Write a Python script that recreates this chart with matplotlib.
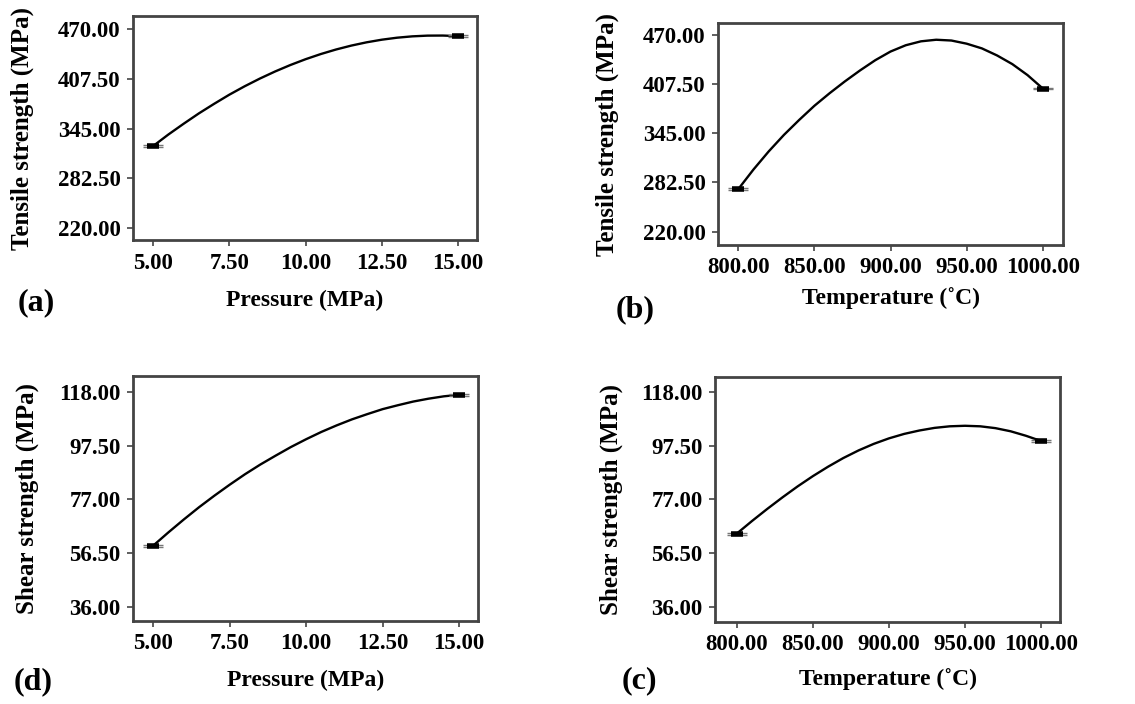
# -*- coding: utf-8 -*-

import matplotlib.pyplot as plt

# (a) tensile strength vs pressure
pres_x = [5, 5.5, 6, 6.5, 7, 7.5, 8, 8.5, 9, 9.5, 10,
          10.5, 11, 11.5, 12, 12.5, 13, 13.5, 14, 14.5, 15]
ts_pres = [323, 337.5, 351, 364, 376, 387.5, 398, 407.7, 416.6, 424.7, 432,
           438.5, 444.2, 449.1, 453.2, 456.5, 459, 460.7, 461.6, 461.7, 461]
# (b) tensile strength vs temperature
temp_x = [800, 810, 820, 830, 840, 850, 860, 870, 880, 890, 900,
          910, 920, 930, 940, 950, 960, 970, 980, 990, 1000]
ts_temp = [274, 299, 322, 343, 362, 380, 396, 411, 425, 438, 449,
           457, 462, 464, 463, 459, 453, 444, 433, 419, 402]
# (d) shear strength vs pressure
ss_pres = [59.3, 64.4, 69.3, 74, 78.4, 82.6, 86.6, 90.3, 93.7, 97, 100,
           102.8, 105.3, 107.6, 109.6, 111.5, 113, 114.4, 115.5, 116.4, 117]
# (c) shear strength vs temperature
ss_temp = [64, 68.8, 73.4, 77.8, 82, 85.9, 89.5, 92.8, 95.7, 98.2, 100.3,
           102, 103.3, 104.3, 104.9, 105.1, 104.9, 104.2, 103, 101.3, 99.3]

pres_ticks = [5.0, 7.5, 10.0, 12.5, 15.0]
temp_ticks = [800, 850, 900, 950, 1000]
ts_ticks = [220.0, 282.5, 345.0, 407.5, 470.0]
ss_ticks = [36.0, 56.5, 77.0, 97.5, 118.0]

plt.rcParams['font.family'] = ['Liberation Serif', 'DejaVu Serif']
plt.rcParams['font.weight'] = 'bold'


def draw_panel(ax, x, y, xticks, yticks, xlim, ylim, xlabel, ylabel, tag,
               ylab_x, xlab_y, tag_xy):
    ax.plot(x, y, color='black', lw=1.7)
    # measured end points with tiny error bars
    ex = [x[0], x[-1]]
    ey = [y[0], y[-1]]
    err = (ylim[1] - ylim[0]) * 0.004
    ax.errorbar(ex, ey, yerr=err, fmt='none', ecolor='#777777',
                elinewidth=1, capsize=7, capthick=1)
    ax.plot(ex, ey, ls='none', marker='_', ms=8, mew=4, color='black')

    ax.set_xlim(xlim)
    ax.set_ylim(ylim)
    ax.set_xticks(xticks)
    ax.set_yticks(yticks)
    ax.set_xticklabels(['%.2f' % v for v in xticks])
    ax.set_yticklabels(['%.2f' % v for v in yticks])
    ax.tick_params(direction='out', length=4, width=1.2, color='#444444',
                   labelsize=16.5, pad=5)
    for lab in ax.get_xticklabels() + ax.get_yticklabels():
        lab.set_fontweight('bold')
    for sp in ax.spines.values():
        sp.set_linewidth(2)
        sp.set_color('#444444')

    ax.set_xlabel(xlabel, fontsize=17, fontweight='bold', va='center')
    ax.set_ylabel(ylabel, fontsize=18, fontweight='bold', va='center')
    ax.xaxis.set_label_coords(0.5, xlab_y)
    ax.yaxis.set_label_coords(ylab_x, 0.5)
    ax.text(tag_xy[0], tag_xy[1], tag, transform=ax.transAxes,
            fontsize=23, fontweight='bold', ha='center', va='center')


fig = plt.figure(figsize=(11.35, 7.04), dpi=100)

ax_a = fig.add_axes([0.1172, 0.659, 0.303, 0.318])
ax_b = fig.add_axes([0.6326, 0.652, 0.304, 0.315])
ax_d = fig.add_axes([0.1172, 0.118, 0.304, 0.348])
ax_c = fig.add_axes([0.630, 0.1165, 0.304, 0.348])

draw_panel(ax_a, pres_x, ts_pres, pres_ticks, ts_ticks, (4.34, 15.62), (205, 486),
           'Pressure (MPa)', 'Tensile strength (MPa)', '(a)',
           -0.323, -0.268, (-0.28, -0.28))
draw_panel(ax_b, temp_x, ts_temp, temp_ticks, ts_ticks, (786.7, 1013.3), (203, 485),
           'Temperature (˚C)', 'Tensile strength (MPa)', '(b)',
           -0.322, -0.239, (-0.24, -0.29))
draw_panel(ax_d, pres_x, ss_pres, pres_ticks, ss_ticks, (4.34, 15.62), (30.5, 124.2),
           'Pressure (MPa)', 'Shear strength (MPa)', '(d)',
           -0.307, -0.241, (-0.29, -0.25))
draw_panel(ax_c, temp_x, ss_temp, temp_ticks, ss_ticks, (785.7, 1012.5), (30.3, 123.7),
           'Temperature (˚C)', 'Shear strength (MPa)', '(c)',
           -0.30, -0.231, (-0.22, -0.24))

plt.savefig('out.png', dpi=100)
